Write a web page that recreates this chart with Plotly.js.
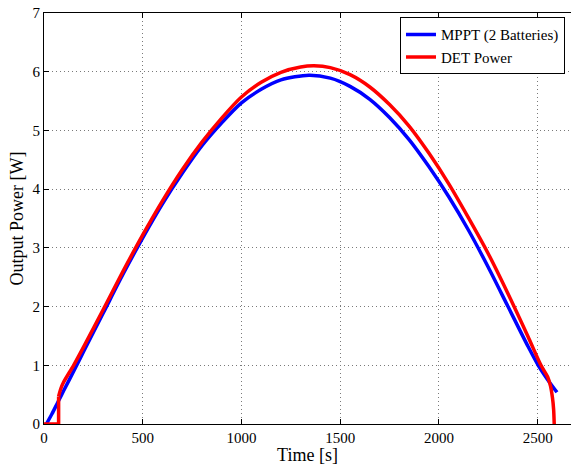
<!DOCTYPE html>
<html>
<head>
<meta charset="utf-8">
<script src="https://cdn.plot.ly/plotly-3.0.1.min.js"></script>
<style>html,body{margin:0;padding:0;overflow:hidden;background:#fff;}</style>
</head>
<body>
<div id="chart" style="width:571px;height:465px;"></div>
<script>
// MPPT (2 Batteries) series
const mpptTime  = [12, 40, 70, 100, 158, 200, 300, 400, 500, 600, 700, 800, 900, 1000, 1100, 1200, 1342, 1450, 1550, 1650, 1750, 1850, 1950, 2050, 2150, 2250, 2350, 2450, 2503, 2550, 2598];
const mpptPower = [0, 0.17, 0.37, 0.57, 0.95, 1.23, 1.89, 2.55, 3.17, 3.75, 4.27, 4.74, 5.13, 5.47, 5.70, 5.86, 5.94, 5.89, 5.75, 5.53, 5.22, 4.84, 4.38, 3.87, 3.30, 2.67, 2.00, 1.33, 1.0, 0.76, 0.54];

// DET Power series (first three points: zero output, then step-on)
const detTime  = [0, 74, 74, 85, 99, 150, 200, 300, 400, 500, 600, 700, 800, 900, 1000, 1100, 1200, 1300, 1367, 1450, 1550, 1650, 1750, 1850, 1950, 2050, 2150, 2250, 2350, 2450, 2517, 2551, 2565, 2575, 2581, 2584];
const detPower = [0, 0, 0.47, 0.6, 0.71, 1.0, 1.31, 1.95, 2.6, 3.22, 3.8, 4.33, 4.8, 5.21, 5.57, 5.82, 5.99, 6.08, 6.10, 6.07, 5.95, 5.74, 5.44, 5.07, 4.61, 4.09, 3.51, 2.90, 2.22, 1.50, 1.0, 0.8, 0.65, 0.45, 0.25, 0];

const seriesNames = ['MPPT (2 Batteries)', 'DET Power'];
const xTicks = [0, 500, 1000, 1500, 2000, 2500];
const yTicks = [0, 1, 2, 3, 4, 5, 6, 7];

const fontFam = '"Liberation Serif", "Times New Roman", serif';
const RED = '#ff0000', BLUE = '#0000ff';

const traces = [
  {x: mpptTime, y: mpptPower, name: seriesNames[0], mode: 'lines', type: 'scatter',
   line: {color: BLUE, width: 3.5, shape: 'spline', smoothing: 0.8}},
  {x: detTime.slice(0, 3), y: detPower.slice(0, 3), name: seriesNames[1], mode: 'lines', type: 'scatter',
   showlegend: false, legendgroup: 'det',
   line: {color: RED, width: 3.5}},
  {x: detTime.slice(2), y: detPower.slice(2), name: seriesNames[1], mode: 'lines', type: 'scatter',
   legendgroup: 'det',
   line: {color: RED, width: 3.5, shape: 'spline', smoothing: 0.8}}
];

const axisCommon = {
  showline: true, linecolor: '#000', linewidth: 1,
  ticks: 'inside', ticklen: 5, tickcolor: '#000', tickwidth: 1,
  showgrid: true, gridcolor: '#7a7a7a', gridwidth: 1, griddash: '1px,3px',
  zeroline: false,
  tickfont: {family: fontFam, size: 15, color: '#000'}
};

const layout = {
  width: 571, height: 465,
  margin: {l: 44, r: 0, t: 13, b: 41},
  paper_bgcolor: '#fff', plot_bgcolor: '#fff',
  font: {family: fontFam, color: '#000'},
  showlegend: true,
  legend: {
    x: 0.9886, y: 0.9895, xanchor: 'right', yanchor: 'top',
    bgcolor: '#fff', bordercolor: '#000', borderwidth: 1,
    font: {family: fontFam, size: 15, color: '#000'},
    tracegroupgap: 0, itemwidth: 30, traceorder: 'normal'
  },
  xaxis: Object.assign({}, axisCommon, {
    range: [0, 2669], tickvals: xTicks, ticktext: xTicks.map(String),
    mirror: 'ticks',
    title: {text: 'Time [s]', font: {family: fontFam, size: 18, color: '#000'}, standoff: 0}
  }),
  yaxis: Object.assign({}, axisCommon, {
    range: [0, 7], tickvals: yTicks, ticktext: yTicks.map(String),
    title: {text: 'Output Power [W]', font: {family: fontFam, size: 18, color: '#000'}, standoff: 4}
  })
};

Plotly.newPlot('chart', traces, layout, {displayModeBar: false, staticPlot: true});
</script>
</body>
</html>
